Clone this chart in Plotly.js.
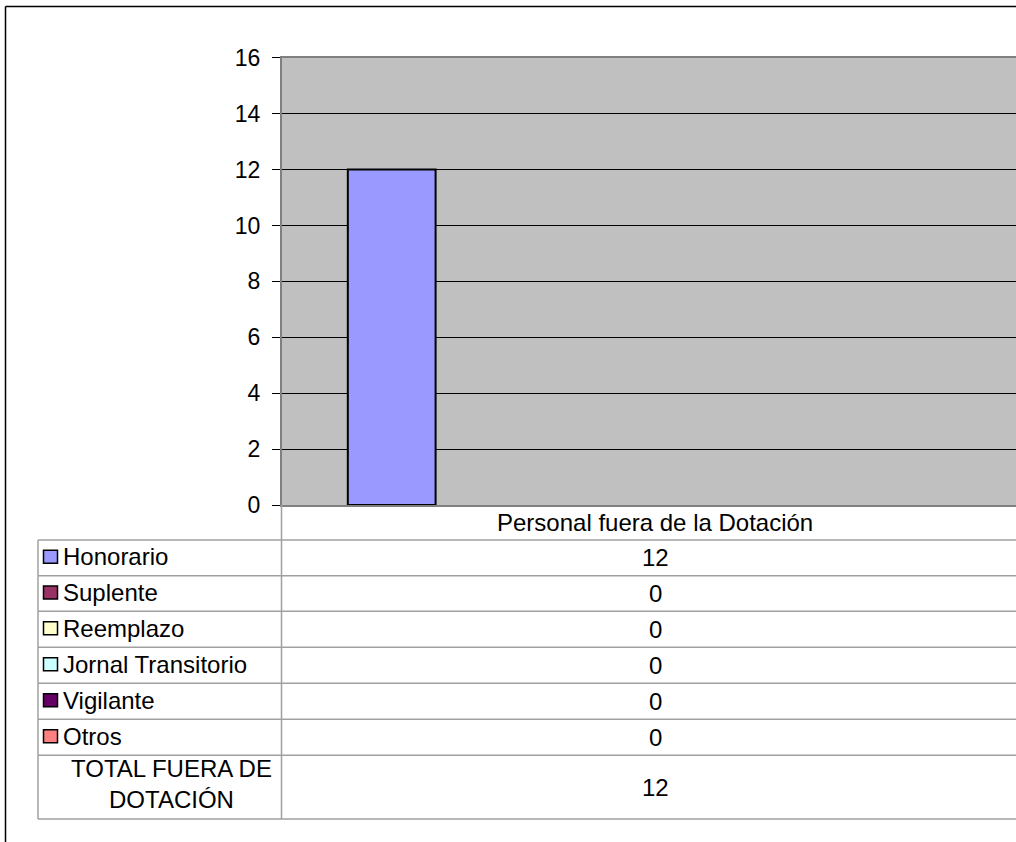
<!DOCTYPE html>
<html><head><meta charset="utf-8">
<script src="https://cdn.plot.ly/plotly-3.0.1.min.js"></script>
<style>html,body{margin:0;padding:0;background:#fff;}#chart{width:1016px;height:842px;}</style>
</head><body><div id="chart"></div>
<script>
// ---- data ----
const categories = ['Personal fuera de la Dotación'];
const seriesNames = ['Honorario', 'Suplente', 'Reemplazo', 'Jornal Transitorio', 'Vigilante', 'Otros'];
const honorario = [12];
const suplente = [0];
const reemplazo = [0];
const jornalTransitorio = [0];
const vigilante = [0];
const otros = [0];
const totalName = 'TOTAL FUERA DE<br>DOTACIÓN';
const totalFueraDotacion = [12];
const yTickVals = [0, 2, 4, 6, 8, 10, 12, 14, 16];

const seriesValues = [honorario, suplente, reemplazo, jornalTransitorio, vigilante, otros];
const seriesColors = ['#9999FF', '#993366', '#FFFFCC', '#CCFFFF', '#660066', '#FF8080'];

// ---- layout helpers (pixel -> paper) ----
const W = 1016, H = 842;
const px = x => x / W;
const py = y => 1 - y / H;
const FONT = 'Liberation Sans, Arial, sans-serif';
const TFS = 24;

const plotLeft = 282, plotTop = 57.7, plotBottom = 505;
const catWidthPx = 746;
const rowLines = [540, 575.7, 611.3, 647.3, 683.3, 719.3, 755.3, 819];
const tableLeft = 38, colDivider = 281.5;
const gridCol = '#A0A0A0';

const traces = seriesNames.map((n, i) => ({
  type: 'bar', name: n, x: categories, y: seriesValues[i],
  marker: {color: seriesColors[i], line: {color: '#000', width: seriesValues[i].map(v => v === 0 ? 0 : 2)}},
  hoverinfo: 'name+y'
}));
// total series: part of the chart's group but drawn without fill (as in the original)
traces.push({
  type: 'bar', name: 'TOTAL FUERA DE DOTACIÓN', x: categories, y: totalFueraDotacion,
  marker: {color: 'rgba(0,0,0,0)', line: {color: 'rgba(0,0,0,0)', width: 0}},
  hoverinfo: 'skip'
});

const shapes = [];
const annotations = [];

// outer chart frame
shapes.push({type: 'line', xref: 'paper', yref: 'paper', x0: px(5.5), x1: px(1016), y0: py(6.5), y1: py(6.5), line: {color: '#000', width: 1.5}});
shapes.push({type: 'line', xref: 'paper', yref: 'paper', x0: px(5.5), x1: px(5.5), y0: py(6.5), y1: py(842), line: {color: '#000', width: 1.5}});

// data table grid
rowLines.forEach(y => shapes.push({type: 'line', xref: 'paper', yref: 'paper', x0: px(tableLeft), x1: px(1016), y0: py(y), y1: py(y), line: {color: gridCol, width: 1.5}}));
shapes.push({type: 'line', xref: 'paper', yref: 'paper', x0: px(tableLeft), x1: px(tableLeft), y0: py(rowLines[0]), y1: py(rowLines[rowLines.length - 1]), line: {color: gridCol, width: 1.5}});
shapes.push({type: 'line', xref: 'paper', yref: 'paper', x0: px(colDivider), x1: px(colDivider), y0: py(plotBottom), y1: py(rowLines[rowLines.length - 1]), line: {color: gridCol, width: 1.5}});

// header (category name)
categories.forEach(c => annotations.push({
  xref: 'x', yref: 'paper', x: c, y: py((plotBottom + rowLines[0]) / 2),
  text: c, showarrow: false, xanchor: 'center', yanchor: 'middle',
  font: {family: FONT, size: TFS, color: '#000'}
}));

// series rows
seriesNames.forEach((n, i) => {
  const yc = (rowLines[i] + rowLines[i + 1]) / 2;
  shapes.push({type: 'rect', xref: 'paper', yref: 'paper', x0: px(43.5), x1: px(57.5), y0: py(yc - 7.5), y1: py(yc + 5.5),
    fillcolor: seriesColors[i], line: {color: '#000', width: 1.5}});
  annotations.push({xref: 'paper', yref: 'paper', x: px(61), y: py(yc - 1), text: n, showarrow: false,
    xanchor: 'left', yanchor: 'middle', font: {family: FONT, size: TFS, color: '#000'}});
  categories.forEach((c, k) => annotations.push({xref: 'x', yref: 'paper', x: c, y: py(yc), text: String(seriesValues[i][k]),
    showarrow: false, xanchor: 'center', yanchor: 'middle', font: {family: FONT, size: TFS, color: '#000'}}));
});

// total row
{
  const i = seriesNames.length;
  const yc = (rowLines[i] + rowLines[i + 1]) / 2;
  annotations.push({xref: 'paper', yref: 'paper', x: px(171), y: py(yc - 3), text: totalName, showarrow: false,
    xanchor: 'center', yanchor: 'middle', align: 'center', font: {family: FONT, size: TFS, color: '#000'}});
  categories.forEach((c, k) => annotations.push({xref: 'x', yref: 'paper', x: c, y: py(yc), text: String(totalFueraDotacion[k]),
    showarrow: false, xanchor: 'center', yanchor: 'middle', font: {family: FONT, size: TFS, color: '#000'}}));
}

const layout = {
  width: W, height: H,
  margin: {l: 0, r: 0, t: 0, b: 0, pad: 0},
  paper_bgcolor: '#FFFFFF', plot_bgcolor: '#C0C0C0',
  barmode: 'group', bargap: 1.5 / 8.5, bargroupgap: 0,
  showlegend: false,
  font: {family: FONT, color: '#000'},
  xaxis: {
    domain: [px(plotLeft), 1],
    range: [-0.5, -0.5 + (W - plotLeft) / catWidthPx],
    showticklabels: false, ticks: '', showgrid: false, zeroline: false,
    showline: true, linecolor: '#808080', linewidth: 2, mirror: true, fixedrange: true
  },
  yaxis: {
    domain: [py(plotBottom), py(plotTop)],
    range: [0, 16], tickvals: yTickVals, ticktext: yTickVals.map(String),
    ticks: 'outside', ticklen: 8, tickwidth: 1, tickcolor: '#000',
    ticklabelstandoff: 7,
    showgrid: true, gridcolor: '#000', gridwidth: 1, zeroline: false,
    showline: true, linecolor: '#808080', linewidth: 2,
    tickfont: {family: FONT, size: 23, color: '#000'}, fixedrange: true
  },
  shapes: shapes,
  annotations: annotations
};

Plotly.newPlot('chart', traces, layout, {displayModeBar: false, staticPlot: true});
</script>
</body></html>
